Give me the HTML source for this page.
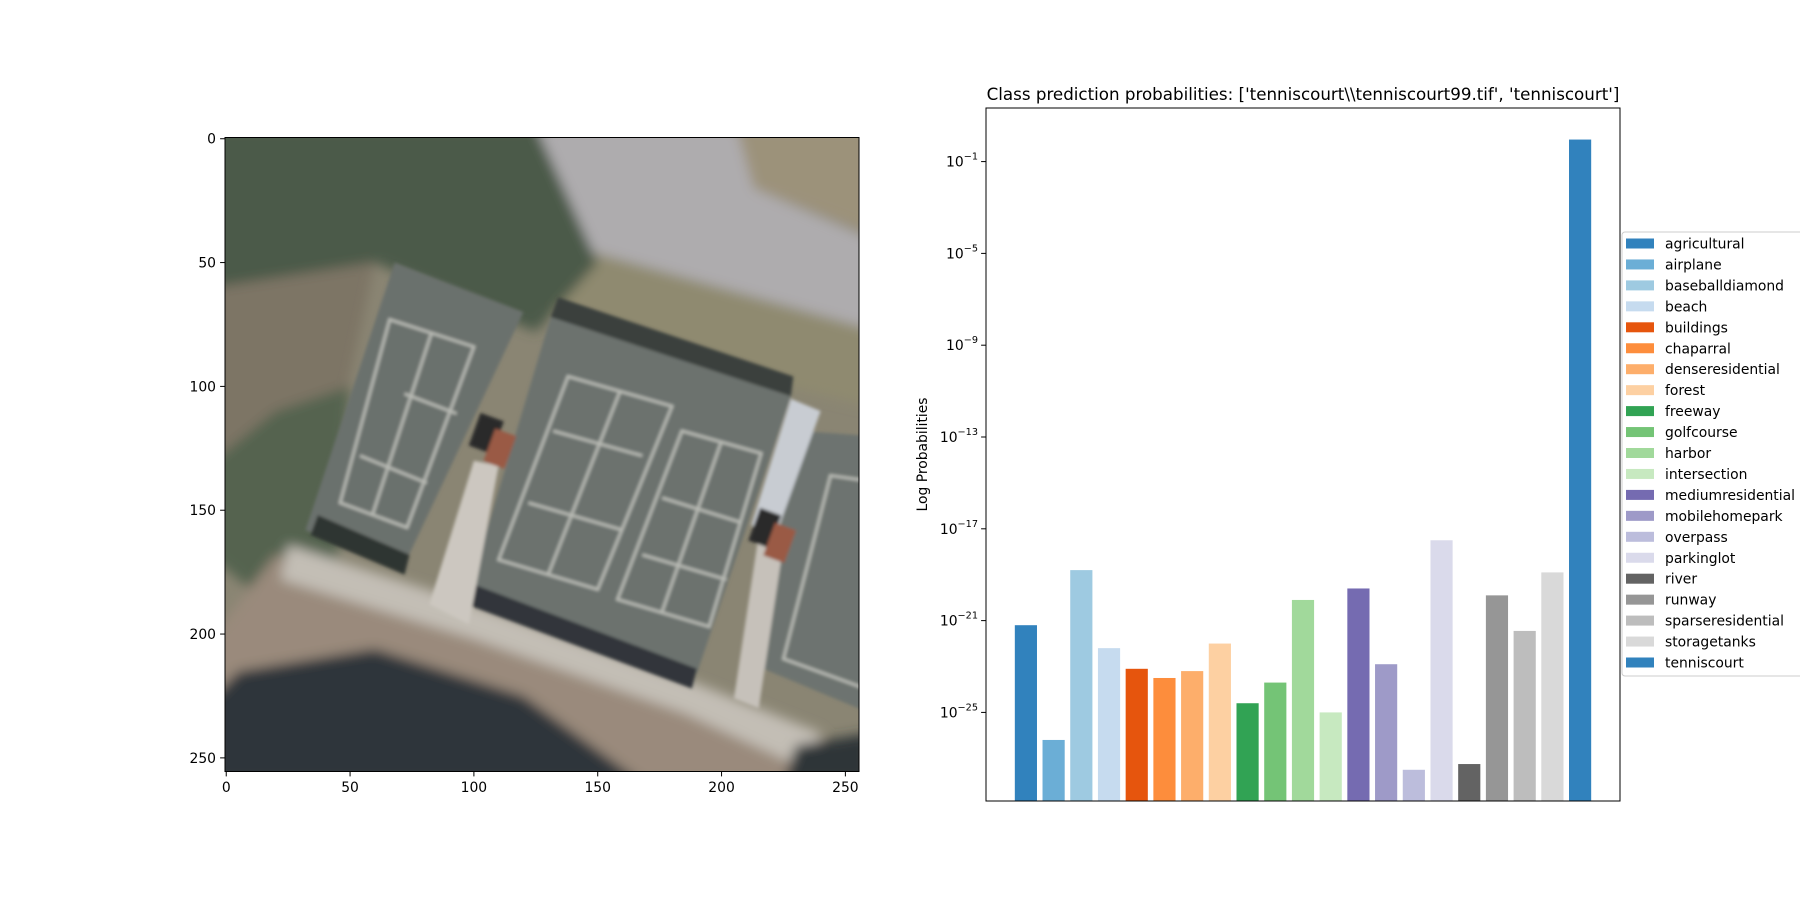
<!DOCTYPE html>
<html><head><meta charset="utf-8"><style>
html,body{margin:0;padding:0;background:#fff;}
svg{display:block;font-family:"DejaVu Sans","Liberation Sans",sans-serif;}
</style></head><body>
<svg id="fig" width="1800" height="900" viewBox="0 0 1800 900" xmlns="http://www.w3.org/2000/svg">
<rect width="1800" height="900" fill="#fff"/>
<g>
<svg x="225" y="137.5" width="634" height="634" viewBox="-0.5 -0.5 256 256" preserveAspectRatio="none">
<defs><filter id="bl"><feGaussianBlur stdDeviation="2.5"/></filter><filter id="bl2"><feGaussianBlur stdDeviation="0.6"/></filter></defs>
<rect x="-0.5" y="-0.5" width="256" height="256" fill="#8a8573"/>
<g filter="url(#bl)">
<polygon points="125,-5 206,-5 213,20 260,40 260,77 138,43" fill="#aeacae"/>
<polygon points="206,-5 260,-5 260,38 213,20" fill="#9c927a"/>
<polygon points="138,43 260,77 260,108 225,100 140,72 120,70" fill="#8f8a70"/>
<polygon points="-5,-5 125,-5 150,50 125,78 60,50 -5,60" fill="#4b5a49"/>
<polygon points="-5,60 60,50 45,120 30,165 -5,160" fill="#7d7465"/>
<polygon points="20,110 50,100 45,170 20,190 -5,170 -5,130" fill="#55644f"/>
<polygon points="20,168 100,190 190,222 260,250 260,260 -5,260 -5,200" fill="#9a8a7c"/>
<polygon points="25,164 100,188 190,220 240,240 235,255 185,232 100,202 22,178" fill="#c3beb5"/>
<polygon points="5,215 60,206 120,225 168,260 -5,260 -5,225" fill="#2e353a"/>
<polygon points="230,245 260,240 260,260 225,260" fill="#2f3537"/>
</g>
<g filter="url(#bl2)">
<polygon points="68,50 120,70 71,174 32,158" fill="#6b716d"/>
<polygon points="34,160 72,176 74,168 37,152" fill="#2f3432"/>
<polygon points="131,72 228,104 190,216 98,182" fill="#6c726e"/>
<polygon points="100,180 190,214 188,222 97,188" fill="#30353a"/>
<polygon points="131,72 228,104 229,96 134,64" fill="#3a3f3c"/>
<polygon points="232,118 260,120 260,232 212,212" fill="#6d736f"/>
<polygon points="100,130 110,132 98,196 82,188" fill="#ccc7c0"/>
<polygon points="228,105 240,110 222,160 212,156" fill="#c8ccd2"/>
<polygon points="215,160 225,164 215,230 205,226" fill="#c6c1ba"/>
<rect x="100" y="112" width="10" height="14" fill="#2a2b2a" transform="rotate(20 105 119)"/>
<rect x="106" y="118" width="9" height="14" fill="#9a5a44" transform="rotate(20 110 125)"/>
<rect x="213" y="150" width="9" height="14" fill="#2a2b2a" transform="rotate(20 217 157)"/>
<rect x="219" y="156" width="9" height="14" fill="#9a5a44" transform="rotate(20 223 163)"/>
<g fill="none" stroke="#b8bab4" stroke-width="1.2">
<polygon points="66,73 100,84 73,157 46,147"/>
<polygon points="138,96 180,108 150,182 110,170"/>
<polygon points="184,118 216,127 195,197 158,186"/>
<polygon points="244,136 258,138 258,222 225,210"/>
<line x1="72" y1="103" x2="93" y2="111"/><line x1="54" y1="128" x2="81" y2="139"/><line x1="83" y1="78" x2="59" y2="152"/>
<line x1="132" y1="118" x2="168" y2="128"/><line x1="122" y1="147" x2="160" y2="158"/><line x1="159" y1="102" x2="130" y2="176"/>
<line x1="176" y1="145" x2="208" y2="155"/><line x1="168" y1="168" x2="202" y2="178"/><line x1="200" y1="122" x2="176" y2="191"/>
</g>
</g>
</svg>
<rect x="225" y="137.5" width="634" height="634" fill="none" stroke="#000" stroke-width="1"/>
</g>
<g id="imgticks" font-size="13.9" fill="#000"></g>
<g id="chart"></g>
</svg>
<script>
const categories=["agricultural","airplane","baseballdiamond","beach","buildings","chaparral","denseresidential","forest","freeway","golfcourse","harbor","intersection","mediumresidential","mobilehomepark","overpass","parkinglot","river","runway","sparseresidential","storagetanks","tenniscourt"];
const logValues=[-21.2,-26.2,-18.8,-22.2,-23.1,-23.5,-23.2,-22.0,-24.6,-23.7,-20.1,-25.0,-19.6,-22.9,-27.5,-17.5,-27.25,-19.9,-21.45,-18.9,-0.04];
const colors=["#3182bd","#6baed6","#9ecae1","#c6dbef","#e6550d","#fd8d3c","#fdae6b","#fdd0a2","#31a354","#74c476","#a1d99b","#c7e9c0","#756bb1","#9e9ac8","#bcbddc","#dadaeb","#636363","#969696","#bdbdbd","#d9d9d9","#3182bd"];
const yTickExps=[-1,-5,-9,-13,-17,-21,-25];
const imgTicks=[0,50,100,150,200,250];
const NS="http://www.w3.org/2000/svg";
function mk(tag,attrs,parent){const e=document.createElementNS(NS,tag);for(const k in attrs)e.setAttribute(k,attrs[k]);parent.appendChild(e);return e;}
// image ticks
const it=document.getElementById('imgticks');
const iu=634/256;
imgTicks.forEach(t=>{
 const x=225+(t+0.5)*iu, y=137.5+(t+0.5)*iu;
 const l1=mk('line',{x1:x,x2:x,y1:771.5,y2:776.4,stroke:'#000','stroke-width':1},it);
 
 
 const t1=mk('text',{x:x,y:792,'text-anchor':'middle'},it);t1.textContent=t;
 
 
 const l2=mk('line',{x1:220.1,x2:225,y1:y,y2:y,stroke:'#000','stroke-width':1},it);
 
 
 const t2=mk('text',{x:216,y:y+5,'text-anchor':'end'},it);t2.textContent=t;
 
 
});
// bar chart
const ch=document.getElementById('chart');
const L=986,R=1620,T=108,B=801;
const yMin=-28.86,yMax=1.335,xMin=-1.44,xMax=21.44;
const sx=v=>L+(v-xMin)/(xMax-xMin)*(R-L);
const sy=e=>B-(e-yMin)/(yMax-yMin)*(B-T);
categories.forEach((c,i)=>{
 const x0=sx(i-0.4),x1=sx(i+0.4),y=sy(logValues[i]);
 const r=mk('rect',{x:x0,y:y,width:x1-x0,height:B-y,fill:colors[i]},ch);
 
 
});
const fr=mk('rect',{x:L,y:T,width:R-L,height:B-T,fill:'none',stroke:'#000','stroke-width':1},ch);


yTickExps.forEach(e=>{
 const y=sy(e);
 const l=mk('line',{x1:L-4.9,x2:L,y1:y,y2:y,stroke:'#000','stroke-width':1},ch);
 
 
 const t=mk('text',{x:L-8,y:y+5,'text-anchor':'end','font-size':13.9},ch);
 
 
 const s1=mk('tspan',{},t);s1.textContent='10';
 const s2=mk('tspan',{dy:-7,'font-size':9.7},t);s2.textContent='\u2212'+Math.abs(e);
});
const yl=mk('text',{x:0,y:0,transform:'translate(927,454.5) rotate(-90)','text-anchor':'middle','font-size':13.9},ch);
yl.textContent='Log Probabilities';


const ti=mk('text',{x:(L+R)/2,y:100,'text-anchor':'middle','font-size':16.7},ch);
ti.textContent="Class prediction probabilities: ['tenniscourt\\\\tenniscourt99.tif', 'tenniscourt']";


// legend
const lg=mk('g',{},ch);


mk('rect',{x:1622,y:232,width:200,height:444,rx:3,fill:'#fff','fill-opacity':0.8,stroke:'#ccc','stroke-width':1},lg);
categories.forEach((c,i)=>{
 const cy=243.5+i*20.95;
 const g=mk('g',{},lg);
 
 
 mk('rect',{x:1626,y:cy-5,width:28,height:10,fill:colors[i]},g);
 const t=mk('text',{x:1665,y:cy+5,'font-size':13.9},g);t.textContent=c;
});
</script>
</body></html>
